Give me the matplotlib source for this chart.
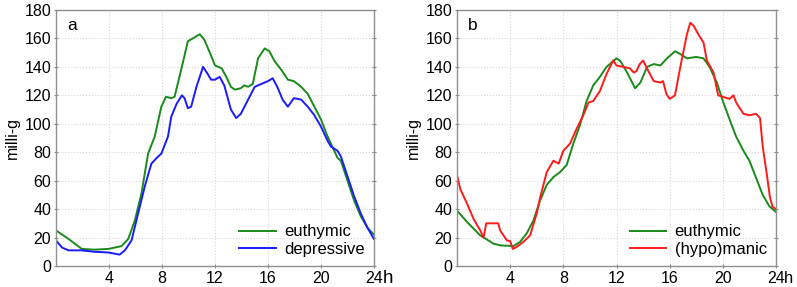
import matplotlib
matplotlib.use("Agg")
import matplotlib.pyplot as plt

# Panel a
a_eu_h = [0, 0.95, 1.95, 2.9, 3.95, 4.95, 5.45, 5.95, 6.45, 6.95, 7.45, 7.95, 8.3, 8.7, 8.95, 9.5,
          9.95, 10.5, 10.85, 11.2, 11.7, 12.0, 12.5, 12.85, 13.2, 13.5, 13.95, 14.2, 14.5, 14.85,
          15.25, 15.75, 16.1, 16.5, 17.0, 17.5, 17.95, 18.5, 19.0, 19.5, 20.0, 20.5, 21.0, 21.25,
          21.5, 22.0, 22.5, 23.0, 23.5, 24.0]
a_eu_v = [25, 19, 12, 11.5, 12, 14, 19, 32, 51, 79, 91, 112, 119, 118, 119, 140,
          158, 161, 163, 159, 148, 141, 139, 133, 126, 124, 125, 127, 126, 128,
          146, 153, 151, 144, 138, 131, 130, 126, 121, 112, 103, 91, 81, 76,
          74, 60, 46, 35, 27, 22]
a_dep_h = [0, 0.45, 0.95, 1.95, 2.9, 3.95, 4.8, 5.2, 5.7, 6.2, 6.7, 7.2, 7.6, 7.95, 8.45, 8.7,
           9.1, 9.5, 9.7, 9.95, 10.2, 10.6, 11.1, 11.45, 11.7, 12.0, 12.35, 12.7, 13.2, 13.6,
           13.95, 14.5, 15.0, 15.5, 16.0, 16.35, 16.7, 17.1, 17.5, 17.95, 18.5, 19.0, 19.5,
           20.0, 20.5, 20.75, 21.25, 21.5, 22.0, 22.5, 23.0, 23.5, 24.0]
a_dep_v = [18, 13, 11, 11, 10, 9.5, 8, 11, 18, 37, 56, 72, 76, 79, 91, 105,
           114, 120, 118, 111, 112, 126, 140, 135, 131, 131, 133, 127, 110, 104,
           107, 117, 126, 128, 130, 132, 126, 117, 112, 118, 117, 112, 106,
           98, 88, 84, 81, 77, 63, 49, 37, 27, 19]

# Panel b
b_eu_h = [0, 0.75, 1.75, 2.75, 3.25, 4.25, 4.75, 5.25, 5.75, 6.25, 6.75, 7.25, 7.75, 8.25, 8.75,
          9.25, 9.75, 10.25, 10.75, 11.25, 12.0, 12.3, 12.8, 13.4, 13.8, 14.3, 14.8, 15.3, 15.8,
          16.4, 16.8, 17.3, 18.0, 18.55, 19.0, 19.55, 20.0, 20.55, 21.0, 21.55, 22.0, 22.5,
          23.0, 23.5, 24.0]
b_eu_v = [39, 31, 21.5, 15.7, 14.5, 14, 17, 23, 32, 46, 57, 62.5, 66, 71, 86,
          99, 116, 127, 133, 140, 146, 144, 136, 125, 129, 140, 142, 141, 146,
          151, 149, 146, 147, 146, 140, 129, 116, 102, 91, 81, 74, 62,
          50, 42, 38]
b_man_h = [0, 0.25, 0.75, 1.25, 1.75, 2.0, 2.2, 2.75, 3.1, 3.25, 3.75, 4.0, 4.2, 4.5, 5.0, 5.5,
           6.0, 6.25, 6.75, 7.25, 7.65, 8.0, 8.5, 9.0, 9.5, 9.9, 10.25, 10.75, 11.25, 11.75,
           12.0, 12.5, 13.0, 13.3, 13.5, 13.75, 14.0, 14.4, 14.8, 15.3, 15.5, 15.75, 16.0,
           16.4, 16.8, 17.3, 17.55, 17.8, 18.15, 18.55, 18.8, 19.3, 19.65, 20.0, 20.5, 20.8,
           21.0, 21.55, 22.0, 22.5, 22.8, 23.0, 23.3, 23.55, 23.75, 24.0]
b_man_v = [64, 54, 44, 33, 25, 20, 30, 30, 30, 25, 18, 17.5, 12, 13.5, 17, 21.5,
           37, 48, 66, 74, 72, 81, 86, 96.5, 106, 115, 116, 123, 135, 144.5,
           141, 140, 139, 136, 137, 142, 144.5, 137, 130, 129, 130, 121, 117.5,
           120, 140, 163, 171, 169, 163, 157, 144.5, 136, 120, 119, 117.5, 120,
           115, 107, 106, 107, 104, 84, 65, 48, 41.5, 40]

x_ticks = [4, 8, 12, 16, 20, 24]
y_ticks = [0, 20, 40, 60, 80, 100, 120, 140, 160, 180]

plt.rcParams['font.family'] = ['Liberation Sans', 'DejaVu Sans']

fig = plt.figure(figsize=(7.97, 2.87), dpi=100)
ax1 = fig.add_axes([56/797, 1-266/287, (374-56)/797, (266-10)/287])
ax2 = fig.add_axes([457/797, 1-266/287, (776-457)/797, (266-10)/287])

GREEN = '#1a8a1a'
BLUE = '#1a1aff'
RED = '#ff1a1a'

ax1.plot(a_eu_h, a_eu_v, color=GREEN, lw=1.4, label='euthymic')
ax1.plot(a_dep_h, a_dep_v, color=BLUE, lw=1.4, label='depressive')
ax2.plot(b_eu_h, b_eu_v, color=GREEN, lw=1.4, label='euthymic')
ax2.plot(b_man_h, b_man_v, color=RED, lw=1.4, label='(hypo)manic')

for ax, lab in [(ax1, 'a'), (ax2, 'b')]:
    ax.set_xlim(0, 24)
    ax.set_ylim(0, 180)
    ax.set_xticks(x_ticks)
    ax.set_yticks(y_ticks)
    ax.tick_params(axis='both', labelsize=11.5, direction='inout', length=3,
                   color='#888888', right=True, top=False, pad=2)
    ax.grid(True, color='#d8d8d8', linestyle=':', linewidth=0.8)
    for s in ax.spines.values():
        s.set_color('#909090')
        s.set_linewidth(1.0)
    ax.set_ylabel('milli-g', fontsize=11.5, labelpad=3)
    ax.text(0.035, 0.97, lab, transform=ax.transAxes, fontsize=12.5, va='top', ha='left')
    ax.legend(loc='lower right', frameon=False, fontsize=12, handlelength=2.2,
              handletextpad=0.5, borderaxespad=0.15, labelspacing=0.15)

ax1.text(1.045, -0.047, 'h', transform=ax1.transAxes, fontsize=13.5, va='center', ha='center')
ax2.text(1.04, -0.047, 'h', transform=ax2.transAxes, fontsize=12, va='center', ha='center')

fig.savefig('out.png', dpi=100)
